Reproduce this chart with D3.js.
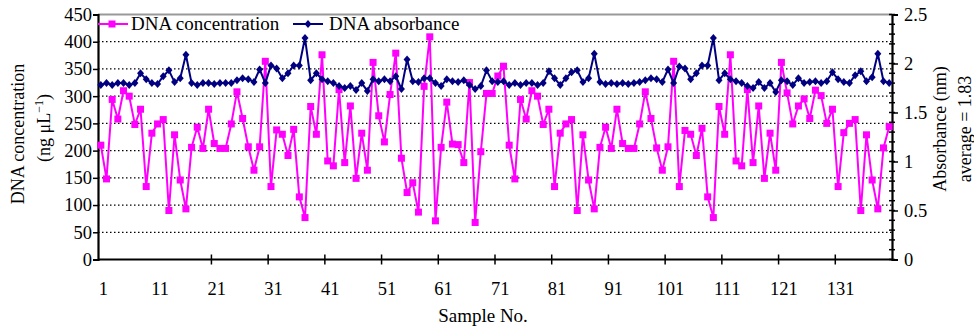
<!DOCTYPE html>
<html>
<head>
<meta charset="utf-8">
<script src="https://cdn.jsdelivr.net/npm/d3@7"></script>
<style>
  body { margin: 0; background: #fff; }
  svg text { font-family: "Liberation Serif", "Times New Roman", serif; fill: #000; }
</style>
</head>
<body>
<svg id="chart" width="974" height="326"></svg>
<script>
// sample numbers on the category axis
var samples = d3.range(1, 141);

// DNA concentration (ng/uL), left axis
var concentration = [
  210, 148, 294, 258, 310, 300, 248, 276, 134, 232,
  249, 257, 90, 229, 146, 93, 206, 243, 204, 276,
  213, 204, 204, 249, 308, 259, 207, 164, 207, 364,
  134, 238, 230, 191, 239, 115, 77, 281, 230, 376,
  181, 172, 312, 178, 282, 149, 232, 164, 362, 264,
  216, 303, 379, 186, 123, 141, 87, 318, 409, 71,
  206, 289, 212, 211, 178, 325, 68, 198, 305, 305,
  337, 355, 210, 148, 294, 258, 310, 300, 248, 276,
  134, 232, 249, 257, 90, 229, 146, 93, 206, 243,
  204, 276, 213, 204, 204, 249, 308, 259, 205, 164,
  207, 364, 134, 237, 230, 191, 241, 115, 77, 281,
  230, 376, 181, 172, 312, 178, 282, 149, 232, 164,
  362, 306, 249, 282, 295, 259, 311, 301, 250, 276,
  134, 233, 250, 257, 90, 229, 146, 93, 205, 244
];

// DNA absorbance, right axis
var absorbance = [
  1.78, 1.80, 1.78, 1.80, 1.80, 1.78, 1.80, 1.90, 1.84, 1.80,
  1.79, 1.87, 1.93, 1.81, 1.85, 2.09, 1.80, 1.78, 1.80, 1.80,
  1.79, 1.80, 1.80, 1.80, 1.83, 1.85, 1.84, 1.81, 1.94, 1.80,
  1.98, 1.95, 1.85, 1.90, 1.98, 1.98, 2.26, 1.83, 1.90, 1.84,
  1.82, 1.80, 1.77, 1.75, 1.77, 1.73, 1.80, 1.72, 1.84, 1.82,
  1.84, 1.82, 1.87, 1.74, 2.04, 1.82, 1.81, 1.85, 1.85, 1.80,
  1.77, 1.84, 1.82, 1.81, 1.83, 1.78, 1.74, 1.77, 1.93, 1.82,
  1.81, 1.82, 1.78, 1.80, 1.78, 1.80, 1.80, 1.78, 1.80, 1.92,
  1.85, 1.78, 1.85, 1.91, 1.93, 1.81, 1.85, 2.10, 1.81, 1.79,
  1.80, 1.79, 1.80, 1.79, 1.80, 1.81, 1.83, 1.85, 1.84, 1.81,
  1.94, 1.80, 1.97, 1.95, 1.84, 1.90, 1.98, 1.98, 2.26, 1.83,
  1.90, 1.84, 1.82, 1.80, 1.77, 1.75, 1.81, 1.75, 1.80, 1.71,
  1.83, 1.82, 1.78, 1.85, 1.80, 1.81, 1.82, 1.80, 1.82, 1.91,
  1.84, 1.81, 1.80, 1.88, 1.92, 1.82, 1.86, 2.10, 1.82, 1.80
];

var xTickLabels = [1, 11, 21, 31, 41, 51, 61, 71, 81, 91, 101, 111, 121, 131];
var leftTicks = [0, 50, 100, 150, 200, 250, 300, 350, 400, 450];
var rightTicks = [0, 0.5, 1, 1.5, 2, 2.5];

var plotLeft = 98, plotRight = 892, plotTop = 14.5, plotBottom = 259.5;
var pink = "#ff00ff", navy = "#000080";

var svg = d3.select("#chart");

var x = d3.scalePoint()
    .domain(samples)
    .range([plotLeft, plotRight])
    .padding(0.5);

var yL = d3.scaleLinear().domain([0, 450]).range([plotBottom, plotTop]);
var yR = d3.scaleLinear().domain([0, 2.5]).range([plotBottom, plotTop]);

// dotted gridlines
svg.append("g").selectAll("line")
    .data(leftTicks.filter(function(d) { return d > 0 && d < 450; }))
  .enter().append("line")
    .attr("x1", plotLeft).attr("x2", plotRight)
    .attr("y1", function(d) { return yL(d); })
    .attr("y2", function(d) { return yL(d); })
    .attr("stroke", "#000")
    .attr("stroke-width", 1.3)
    .attr("stroke-dasharray", "1.5,2.5");

// top border
svg.append("line")
    .attr("x1", plotLeft).attr("x2", plotRight)
    .attr("y1", plotTop).attr("y2", plotTop)
    .attr("stroke", "#999")
    .attr("stroke-width", 2);

// left axis
var gL = svg.append("g")
    .attr("transform", "translate(" + plotLeft + ",0)")
    .call(d3.axisLeft(yL).tickValues(leftTicks).tickSize(5).tickPadding(1));

// right axis
var gR = svg.append("g")
    .attr("transform", "translate(" + plotRight + ",0)")
    .call(d3.axisRight(yR).tickValues(rightTicks).tickSize(6).tickPadding(6).tickFormat(d3.format("")));

gR.selectAll(".minor")
    .data(d3.range(0, 26).map(function(i) { return i / 10; }))
  .enter().append("line")
    .attr("class", "minor")
    .attr("x1", -3).attr("x2", 3)
    .attr("y1", function(d) { return yR(d); })
    .attr("y2", function(d) { return yR(d); })
    .attr("stroke", "#000")
    .attr("stroke-width", 1.5);

// bottom axis: labels at category centres, marks between categories
var gB = svg.append("g")
    .attr("transform", "translate(0," + plotBottom + ")")
    .call(d3.axisBottom(x).tickValues(xTickLabels).tickSize(0).tickPadding(22));

gB.select(".domain").attr("d", "M" + plotLeft + ",0H" + plotRight);

gB.selectAll(".mark")
    .data(xTickLabels.filter(function(d) { return d > 11; }))
  .enter().append("line")
    .attr("class", "mark")
    .attr("x1", function(d) { return x(d) - x.step() / 2; })
    .attr("x2", function(d) { return x(d) - x.step() / 2; })
    .attr("y1", -5).attr("y2", 5)
    .attr("stroke", "#000")
    .attr("stroke-width", 1.5);

[gL, gR, gB].forEach(function(g) {
  g.select(".domain").attr("stroke", "#000").attr("stroke-width", 2.2);
  g.selectAll(".tick line").attr("stroke", "#000").attr("stroke-width", 1.5);
  g.selectAll("text").attr("font-size", 18.5).attr("font-family", "Liberation Serif, serif").attr("fill", "#000");
});
gB.selectAll(".tick text").attr("dx", 2);

// concentration series
var linePink = d3.line()
    .x(function(d, i) { return x(samples[i]); })
    .y(function(d) { return yL(d); });

svg.append("path")
    .datum(concentration)
    .attr("d", linePink)
    .attr("fill", "none")
    .attr("stroke", pink)
    .attr("stroke-width", 2);

svg.append("g").selectAll("rect")
    .data(concentration)
  .enter().append("rect")
    .attr("x", function(d, i) { return x(samples[i]) - 3.5; })
    .attr("y", function(d) { return yL(d) - 3.5; })
    .attr("width", 7).attr("height", 7)
    .attr("fill", pink);

// absorbance series
var lineNavy = d3.line()
    .x(function(d, i) { return x(samples[i]); })
    .y(function(d) { return yR(d); });

svg.append("path")
    .datum(absorbance)
    .attr("d", lineNavy)
    .attr("fill", "none")
    .attr("stroke", navy)
    .attr("stroke-width", 2);

function diamond(cx, cy) {
  return "M" + cx + "," + (cy - 4) + "L" + (cx + 3.5) + "," + cy +
         "L" + cx + "," + (cy + 4) + "L" + (cx - 3.5) + "," + cy + "Z";
}

svg.append("g").selectAll("path")
    .data(absorbance)
  .enter().append("path")
    .attr("d", function(d, i) { return diamond(x(samples[i]), yR(d)); })
    .attr("fill", navy);

// legend
var leg = svg.append("g");
leg.append("line").attr("x1", 98).attr("x2", 128).attr("y1", 24).attr("y2", 24)
    .attr("stroke", pink).attr("stroke-width", 2);
leg.append("rect").attr("x", 108.5).attr("y", 20.5).attr("width", 7).attr("height", 7).attr("fill", pink);
leg.append("text").attr("x", 131).attr("y", 30).attr("font-size", 19).text("DNA concentration");

leg.append("line").attr("x1", 293).attr("x2", 323).attr("y1", 24).attr("y2", 24)
    .attr("stroke", navy).attr("stroke-width", 2);
leg.append("path").attr("d", diamond(308, 24)).attr("fill", navy);
leg.append("text").attr("x", 329).attr("y", 30).attr("font-size", 19).text("DNA absorbance");

// axis titles
svg.append("text")
    .attr("transform", "translate(24,134) rotate(-90)")
    .attr("text-anchor", "middle")
    .attr("font-size", 18)
    .text("DNA concentration");

var t2 = svg.append("text")
    .attr("transform", "translate(50,128) rotate(-90)")
    .attr("text-anchor", "middle")
    .attr("font-size", 18);
t2.append("tspan").text("(ng μL");
t2.append("tspan").attr("font-size", 12).attr("dy", -7).text("−1");
t2.append("tspan").attr("dy", 7).text(")");

svg.append("text")
    .attr("transform", "translate(946,129) rotate(-90)")
    .attr("text-anchor", "middle")
    .attr("font-size", 18)
    .text("Absorbance (nm)");

svg.append("text")
    .attr("transform", "translate(971,129) rotate(-90)")
    .attr("text-anchor", "middle")
    .attr("font-size", 18)
    .text("average = 1.83");

svg.append("text")
    .attr("x", 483).attr("y", 322)
    .attr("text-anchor", "middle")
    .attr("font-size", 19)
    .text("Sample No.");
</script>
</body>
</html>
